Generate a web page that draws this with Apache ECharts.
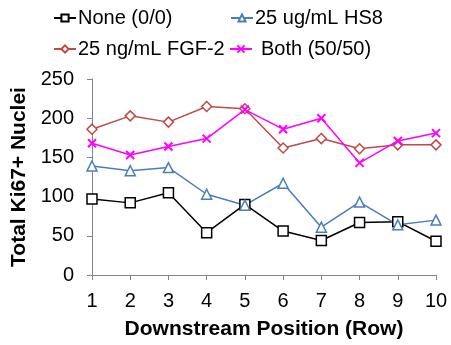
<!DOCTYPE html>
<html><head><meta charset="utf-8">
<script src="https://cdn.jsdelivr.net/npm/echarts@6/dist/echarts.min.js"></script>
<style>html,body{margin:0;padding:0;background:#fff}#c{width:451px;height:345px}</style>
</head><body><div id="c"></div>
<script>
const categories = ['1','2','3','4','5','6','7','8','9','10'];
const yTicks = [0, 50, 100, 150, 200, 250];
const seriesNames = ['None (0/0)', '25 ug/mL HS8', '25 ng/mL FGF-2', 'Both (50/50)'];
const noneVals = [97, 92, 105, 54, 90, 56, 44, 67, 68, 43];
const hs8Vals = [139, 133, 137, 103, 89, 117, 61, 93, 64, 70];
const fgfVals = [186, 203, 195, 215, 212, 162, 174, 161, 166, 166];
const bothVals = [168, 153, 164, 174, 211, 186, 200, 143, 171, 181];

const font = 'Liberation Sans, Arial, sans-serif';
const axisGray = '#868686';
const xPath = 'path://M0,0L10,10M10,0L0,10';

const chart = echarts.init(document.getElementById('c'), null, {renderer: 'canvas'});
function lg(name, left, top, pad) {
  return {
    data: [name], left: left, top: top, orient: 'horizontal',
    itemWidth: 22, itemHeight: 9, itemGap: 0,
    textStyle: {fontFamily: font, fontSize: 20, color: '#000', padding: [0,0,0,pad]},
    padding: 0
  };
}
chart.setOption({
  animation: false,
  backgroundColor: '#fff',
  legend: [
    lg(seriesNames[0], 53, 8, -3),
    lg(seriesNames[1], 230, 8, -3),
    lg(seriesNames[2], 53, 39, -3),
    lg(seriesNames[3], 229, 39, 4)
  ],
  grid: {left: 92, right: 15, top: 79, bottom: 67, containLabel: false},
  xAxis: {
    type: 'category', data: categories, boundaryGap: false,
    name: 'Downstream Position (Row)', nameLocation: 'middle', nameGap: 44,
    nameTextStyle: {fontFamily: font, fontSize: 21, fontWeight: 'bold', color: '#000'},
    axisLine: {lineStyle: {color: axisGray, width: 1}},
    axisTick: {show: true, alignWithLabel: true, length: 5, lineStyle: {color: axisGray}},
    axisLabel: {fontFamily: font, fontSize: 20, color: '#000', margin: 16},
    splitLine: {show: false}
  },
  yAxis: {
    type: 'value', min: yTicks[0], max: yTicks[yTicks.length-1], interval: 50,
    name: 'Total Ki67+ Nuclei', nameLocation: 'middle', nameGap: 54, nameRotate: 90,
    nameTextStyle: {fontFamily: font, fontSize: 21, fontWeight: 'bold', color: '#000'},
    axisLine: {show: true, lineStyle: {color: axisGray, width: 1}},
    axisTick: {show: true, length: 5, lineStyle: {color: axisGray}},
    axisLabel: {fontFamily: font, fontSize: 20, color: '#000', margin: 18},
    splitLine: {show: false}
  },
  series: [
    {name: seriesNames[0], type: 'line', data: noneVals, symbol: 'rect', symbolSize: 10,
     lineStyle: {color: '#000', width: 1.5}, itemStyle: {color: '#fff', borderColor: '#000', borderWidth: 1.5}},
    {name: seriesNames[1], type: 'line', data: hs8Vals, symbol: 'triangle', symbolSize: 10,
     lineStyle: {color: '#4a7ebb', width: 1.5}, itemStyle: {color: '#fff', borderColor: '#4a7ebb', borderWidth: 1.5}},
    {name: seriesNames[2], type: 'line', data: fgfVals, symbol: 'diamond', symbolSize: 10,
     lineStyle: {color: '#be4b48', width: 1.5}, itemStyle: {color: '#fff', borderColor: '#be4b48', borderWidth: 1.5}},
    {name: seriesNames[3], type: 'line', data: bothVals, symbol: xPath, symbolSize: 8,
     lineStyle: {color: '#ff00ff', width: 1.5}, itemStyle: {color: '#ff00ff', borderColor: '#ff00ff', borderWidth: 2}}
  ]
});
</script></body></html>
